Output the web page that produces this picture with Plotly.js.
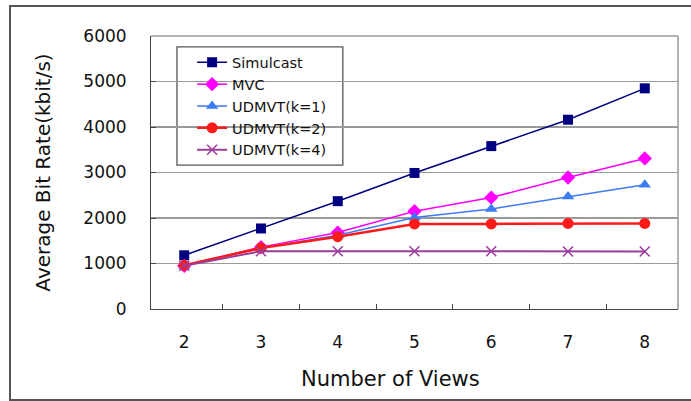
<!DOCTYPE html>
<html>
<head>
<meta charset="utf-8">
<script src="https://cdn.plot.ly/plotly-3.0.1.min.js"></script>
<style>
html,body{margin:0;padding:0;background:#fff;}
#wrap{position:relative;width:691px;height:401px;}
#chart{position:absolute;left:0;top:0;width:691px;height:401px;}
#frame{position:absolute;left:9px;top:5px;width:700px;height:392px;border:2px solid #555;border-right:none;pointer-events:none;}
</style>
</head>
<body>
<div id="wrap"><div id="chart"></div><div id="frame"></div></div>
<script>
const views = ['2','3','4','5','6','7','8'];
const simulcast = [1180, 1770, 2370, 2990, 3580, 4160, 4850];
const mvc = [950, 1360, 1680, 2150, 2450, 2890, 3310];
const udmvtK1 = [950, 1340, 1620, 2010, 2200, 2470, 2730];
const udmvtK2 = [960, 1340, 1590, 1870, 1870, 1880, 1880];
const udmvtK4 = [950, 1270, 1270, 1270, 1270, 1265, 1265];

const font = 'DejaVu Sans, Liberation Sans, Arial, sans-serif';
const traces = [
  {name:'Simulcast', y:simulcast, color:'#000080', width:1.5, symbol:'square', size:10},
  {name:'MVC', y:mvc, color:'#FF00FF', width:1.5, symbol:'diamond', size:11},
  {name:'UDMVT(k=1)', y:udmvtK1, color:'#3D7BF5', width:1.5, symbol:'triangle-up', size:11},
  {name:'UDMVT(k=2)', y:udmvtK2, color:'#FF1A1A', width:2.5, symbol:'circle', size:11},
  {name:'UDMVT(k=4)', y:udmvtK4, color:'#9B3C9B', width:2, symbol:'x-thin', size:10}
].map(t => ({
  type:'scatter', mode:'lines+markers', name:t.name, x:views, y:t.y,
  line:{color:t.color, width:t.width},
  marker:{symbol:t.symbol, size:t.size, color:t.color, line:{color:t.color, width: t.symbol==='x-thin'?1.5:0}}
}));

const layout = {
  width:691, height:401,
  margin:{l:151, r:13, t:36, b:92},
  paper_bgcolor:'rgba(0,0,0,0)', plot_bgcolor:'#fff',
  font:{family:font, color:'#111'},
  showlegend:true,
  legend:{x:0.078, xanchor:'left', y:0.962, yanchor:'top', bgcolor:'rgba(0,0,0,0)', borderwidth:0,
          font:{family:font, size:14.5, color:'#111'}, itemwidth:30, tracegroupgap:0},
  xaxis:{type:'category', categoryorder:'array', categoryarray:views, tickson:'boundaries',
         ticks:'inside', ticklen:5, tickcolor:'#444', showline:true, linecolor:'#444', linewidth:1,
         showgrid:false, zeroline:false, tickfont:{size:17, family:font, color:'#111'},
         ticklabelstandoff:18},
  yaxis:{range:[0,6000], dtick:1000, tick0:0, ticks:'inside', ticklen:5, tickcolor:'#444',
         showline:true, linecolor:'#444', linewidth:1, showgrid:true, gridcolor:'#9a9a9a', gridwidth:1.2,
         zeroline:false, tickfont:{size:17, family:font, color:'#111'}, ticklabelstandoff:20,
         title:{text:'Average Bit Rate(kbit/s)', font:{size:20, family:font, color:'#111'}, standoff:27}},
  annotations:[
    {text:'Number of Views', xref:'paper', yref:'paper', x:0.455, y:-0.256, xanchor:'center', yanchor:'middle',
     showarrow:false, font:{size:21, family:font, color:'#111'}}
  ],
  shapes:[
    {type:'line', xref:'paper', yref:'paper', x0:0, x1:1, y0:1, y1:1, line:{color:'#9a9a9a', width:1.5}},
    {type:'line', xref:'paper', yref:'paper', x0:1, x1:1, y0:0, y1:1, line:{color:'#9a9a9a', width:1.5}},
    {type:'rect', xref:'paper', yref:'paper', x0:0.0493, x1:0.364, y0:0.527, y1:0.96, layer:'between',
     fillcolor:'#fff', line:{color:'#555', width:1.3}}
  ]
};
Plotly.newPlot('chart', traces, layout, {displayModeBar:false, staticPlot:true});
</script>
</body>
</html>
